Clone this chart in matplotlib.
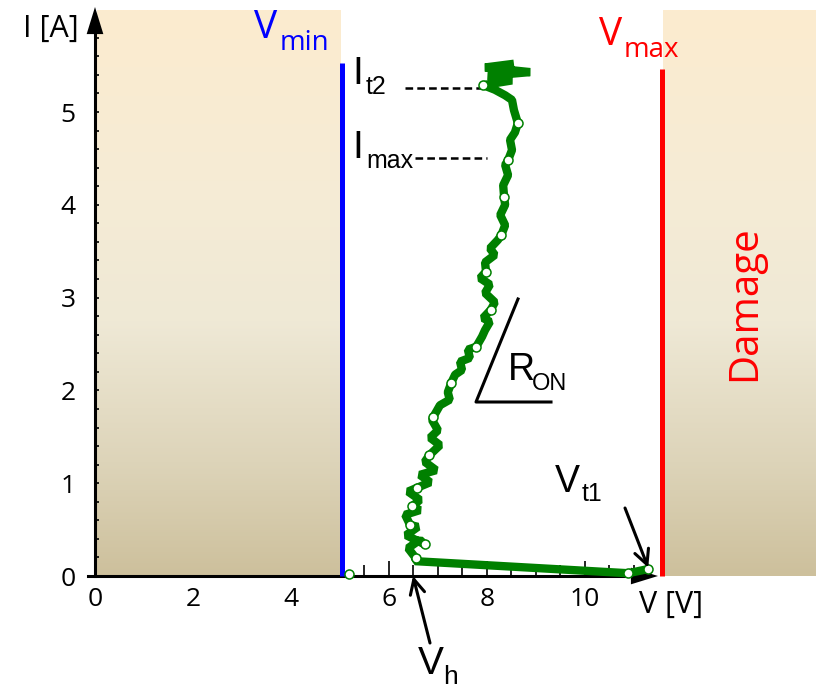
import numpy as np
import matplotlib
matplotlib.use("Agg")
import matplotlib.pyplot as plt
from matplotlib import font_manager
from matplotlib.colors import LinearSegmentedColormap
from matplotlib.ticker import FixedLocator

# TLP curve (V in volts, I in amps)
V_CURVE = [11.29, 10.88, 6.53, 6.55, 6.39, 6.63, 6.73, 6.35, 6.59, 6.43,
           6.33, 6.63, 6.47, 6.63, 6.39, 6.57, 6.84, 6.63, 6.96, 6.73,
           6.82, 7.04, 6.84, 7.00, 6.88, 6.90, 7.04, 7.24, 7.20, 7.27,
           7.35, 7.49, 7.45, 7.65, 7.61, 7.78, 7.90, 7.96, 8.06, 7.92,
           8.08, 8.16, 7.96, 8.06, 7.86, 7.98, 7.96, 8.16, 8.06, 8.22,
           8.29, 8.37, 8.27, 8.37, 8.35, 8.33, 8.43, 8.37, 8.43, 8.51,
           8.47, 8.57, 8.63, 8.55, 8.51, 8.37, 8.16, 7.92, 8.51, 8.02,
           8.88, 7.96, 8.55]
I_CURVE = [0.075, 0.03, 0.16, 0.19, 0.30, 0.39, 0.34, 0.44, 0.53, 0.55,
           0.66, 0.71, 0.75, 0.82, 0.91, 0.95, 1.01, 1.09, 1.14, 1.23,
           1.30, 1.41, 1.49, 1.57, 1.68, 1.71, 1.84, 1.90, 1.98, 2.08,
           2.17, 2.22, 2.31, 2.35, 2.44, 2.47, 2.58, 2.65, 2.74, 2.78,
           2.87, 2.95, 3.05, 3.14, 3.21, 3.28, 3.38, 3.46, 3.53, 3.62,
           3.67, 3.78, 3.89, 4.00, 4.08, 4.21, 4.32, 4.43, 4.48, 4.59,
           4.70, 4.78, 4.88, 5.02, 5.13, 5.18, 5.24, 5.29, 5.34, 5.39,
           5.43, 5.48, 5.52]

# measured pulse points (open circles)
V_PTS = [5.18, 11.29, 10.88, 6.55, 6.73, 6.43, 6.47, 6.57, 6.82, 6.90,
         7.27, 7.78, 8.08, 7.98, 8.29, 8.35, 8.43, 8.63, 7.92]
I_PTS = [0.02, 0.075, 0.03, 0.19, 0.34, 0.55, 0.75, 0.95, 1.30, 1.71,
         2.08, 2.47, 2.87, 3.28, 3.67, 4.08, 4.48, 4.88, 5.29]

V_MIN = 5.04
V_MAX = 11.57
V_H = 6.49
V_T1 = 11.29
I_T2 = 5.26
I_MAX = 4.50
X_TICKS = [0, 2, 4, 6, 8, 10]
Y_TICKS = [0, 1, 2, 3, 4, 5]

# pixel <-> data mapping of the reference picture
W, H = 816, 691
X0, Y0 = 95, 576
PPV, PPA = 49.0, 92.8


def px(x, y):
    return (x - X0) / PPV, (Y0 - y) / PPA


names = {f.name for f in font_manager.fontManager.ttflist}
NARROW = "Liberation Sans Narrow" if "Liberation Sans Narrow" in names else "Liberation Sans"
SANS = "Open Sans"
plt.rcParams["font.family"] = [SANS, "DejaVu Sans"]
plt.rcParams["lines.scale_dashes"] = False

fig = plt.figure(figsize=(W / 100, H / 100), dpi=100)
ax = fig.add_axes([0, 0, 1, 1])
ax.set_xlim(-X0 / PPV, (W - X0) / PPV)
ax.set_ylim(-(H - Y0) / PPA, Y0 / PPA)
ax.patch.set_visible(False)

# shaded "forbidden" regions with vertical gradient
shade = LinearSegmentedColormap.from_list(
    "shade", [(0, "#cdc09c"), (0.2, "#ddd4b9"), (0.45, "#efe9d6"),
              (0.7, "#f6ecd5"), (1, "#fcebcf")])
grad = np.linspace(0, 1, 256).reshape(-1, 1)
top = px(0, 10)[1]
ax.imshow(grad, extent=[0.05, V_MIN - 0.02, 0, top], origin="lower",
          cmap=shade, aspect="auto", zorder=3)
ax.imshow(grad, extent=[V_MAX + 0.03, ax.get_xlim()[1], 0, top], origin="lower",
          cmap=shade, aspect="auto", zorder=3)

# axes: spines through the origin, ticks pointing inwards
for s in ("top", "right"):
    ax.spines[s].set_visible(False)
ax.spines["left"].set_position(("data", 0))
ax.spines["bottom"].set_position(("data", 0))
ax.spines["left"].set_bounds(0, 5.9)
ax.spines["bottom"].set_bounds(-0.14, 11.1)
for s in ("left", "bottom"):
    ax.spines[s].set_linewidth(2.2)
    ax.spines[s].set_zorder(5)
ax.xaxis.set_zorder(2)
ax.yaxis.set_zorder(6)
ax.set_xticks(X_TICKS)
ax.set_yticks(Y_TICKS)
ax.xaxis.set_minor_locator(FixedLocator(np.arange(1, 23) * 0.5))
ax.yaxis.set_minor_locator(FixedLocator(np.arange(1, 30) * 0.2))
ax.tick_params(axis="x", which="major", direction="in", length=11, width=1.2,
               pad=8, labelsize=19)
ax.tick_params(axis="x", which="minor", direction="in", length=8, width=1.2)
ax.tick_params(axis="y", which="both", direction="in", length=3, width=1.2,
               pad=14, labelsize=19)

arrow_kw = dict(arrowstyle="-|>,head_length=1.3,head_width=0.4",
                mutation_scale=15, color="black", lw=0, shrinkA=0, shrinkB=0)
ax.annotate("", xy=px(658, 576), xytext=(10.9, 0), arrowprops=arrow_kw, zorder=6)
ax.annotate("", xy=px(95, 7), xytext=(0, 5.8), arrowprops=arrow_kw, zorder=6)
ax.text(*px(51, 37), "I [A]", fontsize=22, ha="center", va="baseline")
ax.text(*px(639, 613), "V [V]", fontsize=22, ha="left", va="baseline")

# Vmin / Vmax limits
ax.plot([V_MIN, V_MIN], [0, 5.53], color="#0000ff", lw=3.6, zorder=7,
        solid_capstyle="butt")
ax.plot([V_MAX, V_MAX], [0, 5.46], color="#ff0000", lw=3.6, zorder=7,
        solid_capstyle="butt")


def sub_label(base_xy, main, sub_xy, sub, size, subsize, color="black", family=SANS):
    ax.text(*px(*base_xy), main, fontsize=size, color=color, family=family,
            ha="left", va="baseline", zorder=8)
    ax.text(*px(*sub_xy), sub, fontsize=subsize, color=color, family=family,
            ha="left", va="baseline", zorder=8)


sub_label((254, 38), "V", (280, 50), "min", 28, 20, color="#0000ff")
sub_label((599, 45), "V", (624, 57), "max", 28, 20, color="#ff0000")
sub_label((352, 84), "I", (366, 94), "t2", 28, 18, family=NARROW)
sub_label((352, 158), "I", (366, 168), "max", 28, 18, family=NARROW)
sub_label((508, 380), "R", (532, 390), "ON", 27, 17, family=NARROW)
sub_label((555, 492), "V", (582, 501), "t1", 27, 18, family=NARROW)
sub_label((418, 674), "V", (443, 684), "h", 28, 19, family=NARROW)
ax.text(*px(745, 303), "Damage", fontsize=29, color="#ff0000", rotation=90,
        ha="center", va="center", zorder=8)

# dashed level markers for It2 and Imax
dash_kw = dict(color="black", lw=1.8, dashes=(5.5, 3), zorder=7)
ax.plot([px(405, 0)[0], 7.90], [I_T2, I_T2], **dash_kw)
ax.plot([px(415, 0)[0], 8.00], [I_MAX, I_MAX], **dash_kw)

# RON slope triangle
a, b, c = px(476, 402), px(518, 299), px(551, 402)
ax.plot([b[0], a[0], c[0]], [b[1], a[1], c[1]], color="black", lw=2.2, zorder=7)

# the measured curve
ax.plot(V_CURVE, I_CURVE, color="#008000", lw=6.0, solid_joinstyle="bevel",
        solid_capstyle="butt", zorder=9)
ax.plot(V_PTS, I_PTS, "o", ms=6.5, mfc="white", mec="#008000", mew=1.1, zorder=10)

# Vh and Vt1 pointers
pointer = dict(arrowstyle="->,head_length=0.7,head_width=0.35", mutation_scale=15,
               color="black", lw=2.2, shrinkA=0, shrinkB=0)
ax.annotate("", xy=(V_H, 0), xytext=px(430, 643), arrowprops=pointer,
            annotation_clip=False, zorder=11)
ax.annotate("", xy=(V_T1, 0.09), xytext=px(625, 508), arrowprops=pointer,
            annotation_clip=False, zorder=11)

fig.savefig("out.png", dpi=100)
